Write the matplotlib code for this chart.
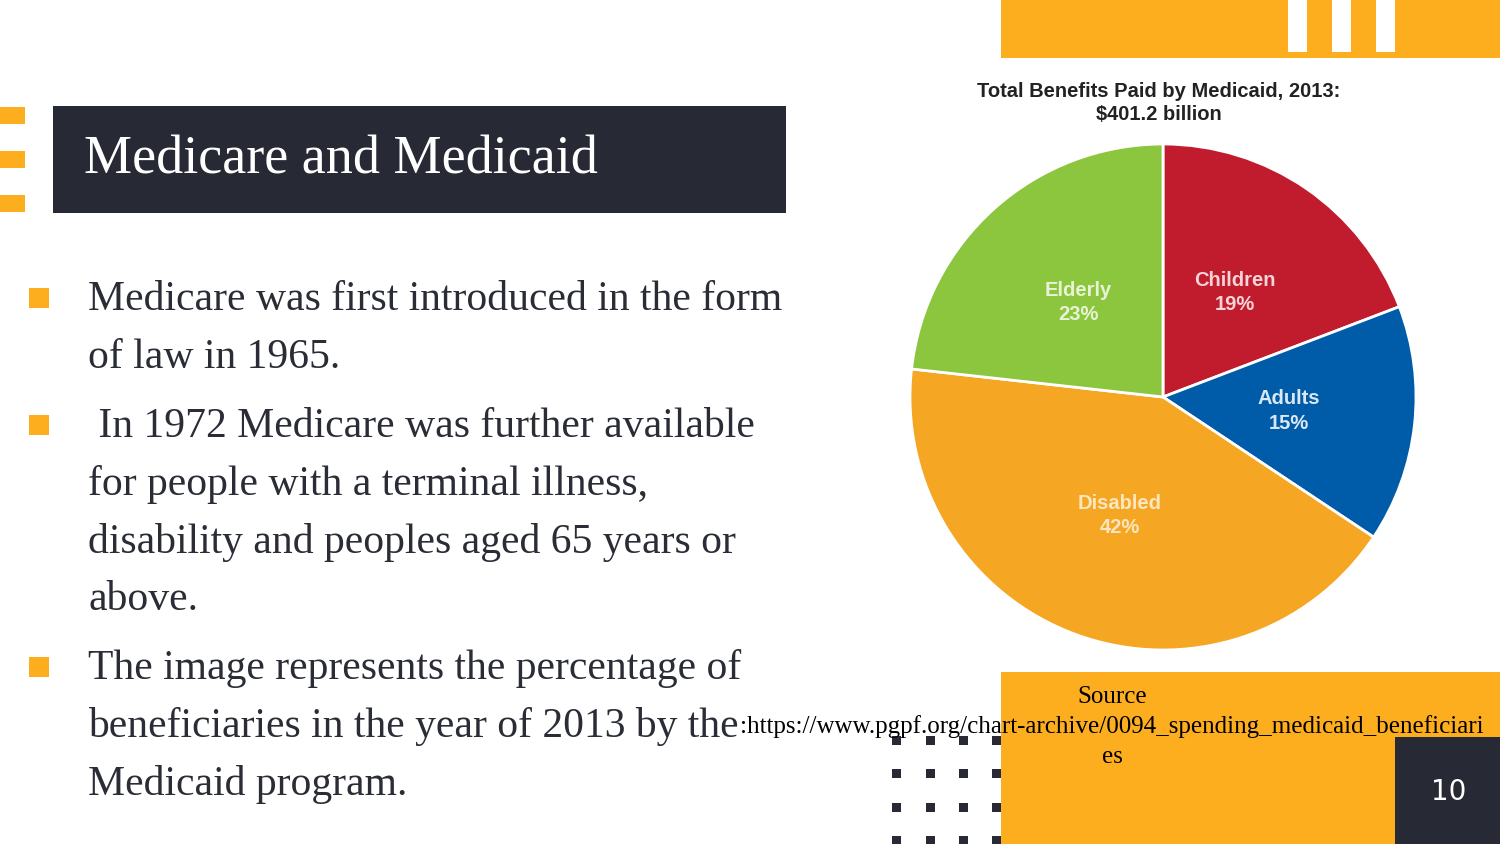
import matplotlib.pyplot as plt
from matplotlib.patches import Rectangle

# pie data
groups = ['Children', 'Adults', 'Disabled', 'Elderly']
shares = [19, 15, 42, 23]
wedge_colors = ['#c01c2e', '#005ca9', '#f5a623', '#8cc63f']
label_colors = ['#f6d3d7', '#dbe7f4', '#fce6c0', '#e8f3d6']

chart_title = 'Total Benefits Paid by Medicaid, 2013:\n$401.2 billion'
slide_title = 'Medicare and Medicaid'
bullets = [
    ['Medicare was first introduced in the form', 'of law in 1965.'],
    [' In 1972 Medicare was further available', 'for people with a terminal illness,',
     'disability and peoples aged 65 years or', 'above.'],
    ['The image represents the percentage of', 'beneficiaries in the year of 2013 by the',
     'Medicaid program.'],
]
bullet_y = [298, 425, 667]
source_lines = ['Source',
                ':https://www.pgpf.org/chart-archive/0094_spending_medicaid_beneficiari',
                'es']

ORANGE = '#fdae1f'
DARK = '#272a35'
TEXT = '#2a2c36'

fig = plt.figure(figsize=(15, 8.44), dpi=100)
bg = fig.add_axes([0, 0, 1, 1])
bg.set_xlim(0, 1500)
bg.set_ylim(844, 0)
bg.axis('off')

# top orange band with white stripes
bg.add_patch(Rectangle((1001, 0), 499, 58, color=ORANGE, lw=0))
for x in [1288, 1332, 1376]:
    bg.add_patch(Rectangle((x, 0), 19, 52, color='white', lw=0))

# left little orange bars
for y in [107, 151, 195]:
    bg.add_patch(Rectangle((0, y), 25, 17, color=ORANGE, lw=0))

# title box
bg.add_patch(Rectangle((53, 106), 733, 107, color=DARK, lw=0))
bg.text(84, 160, slide_title, color='white', fontsize=39, family='Liberation Serif',
        va='center', ha='left')

# bullets
line_h = 57.5
for lines, y0 in zip(bullets, bullet_y):
    bg.add_patch(Rectangle((29, y0 - 10), 20, 20, color=ORANGE, lw=0))
    for i, line in enumerate(lines):
        bg.text(88, y0 + 2 + i * line_h, line, color=TEXT, fontsize=30,
                family='Liberation Serif', va='center', ha='left')

# dotted grid (drawn under the orange block)
for cx in [896, 930, 963, 996]:
    for cy in [740, 773, 807, 840]:
        bg.add_patch(Rectangle((cx - 4.5, cy - 4.5), 9, 9, color=DARK, lw=0, zorder=1))

# bottom orange block and page number box
bg.add_patch(Rectangle((1001, 672), 499, 172, color=ORANGE, lw=0, zorder=2))
bg.add_patch(Rectangle((1395, 737), 105, 107, color=DARK, lw=0, zorder=3))
bg.text(1449, 792, '10', color='white', fontsize=20, family='DejaVu Sans',
        ha='center', va='center', zorder=4)

# source text
for i, line in enumerate(source_lines):
    bg.text(1112, 697 + i * 30, line, fontsize=18, family='Liberation Serif',
            ha='center', va='center', color='black', zorder=5)

# chart title
bg.text(1159, 103, chart_title, fontsize=14.5, fontweight='bold', family='Liberation Sans',
        ha='center', va='center', color='#222222', linespacing=1.3)

# pie
cx, cy, r = 1163, 397, 253
ax = fig.add_axes([(cx - r) / 1500, (844 - cy - r) / 844, 2 * r / 1500, 2 * r / 844])
labels = [f'{g}\n{s}%' for g, s in zip(groups, shares)]
wedges, texts = ax.pie(shares, labels=labels, colors=wedge_colors, startangle=90,
                       counterclock=False, labeldistance=0.5,
                       wedgeprops=dict(edgecolor='white', linewidth=2))
for t, c in zip(texts, label_colors):
    t.set_color(c)
    t.set_fontsize(14.5)
    t.set_fontweight('bold')
    t.set_family('Liberation Sans')
    t.set_ha('center')
    t.set_va('center')
    t.set_linespacing(1.35)
ax.set_xlim(-1, 1)
ax.set_ylim(-1, 1)
ax.set_aspect('equal')

fig.savefig('out.png', dpi=100)
